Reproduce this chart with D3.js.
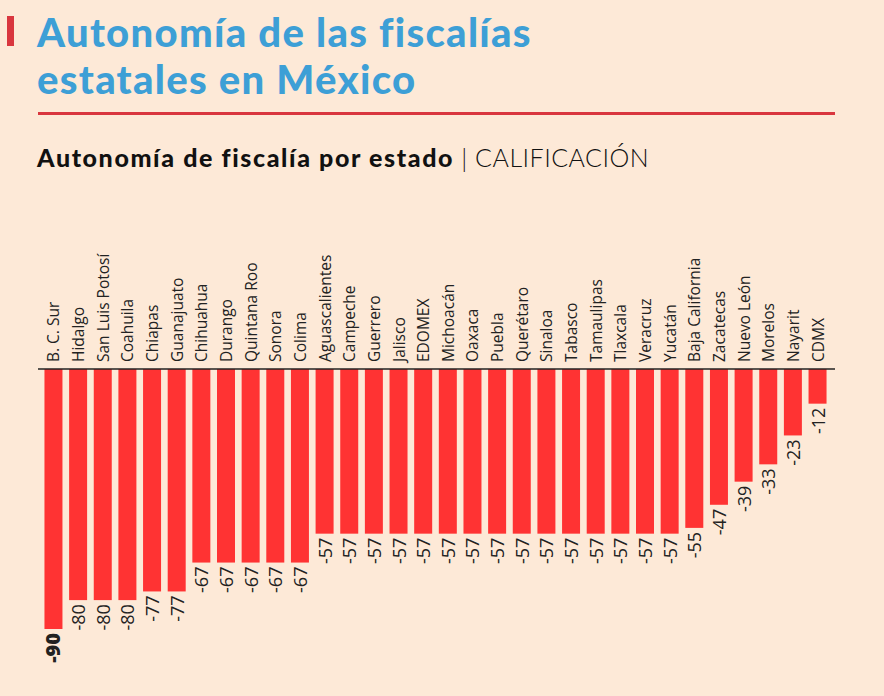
<!DOCTYPE html>
<html><head><meta charset="utf-8">
<script src="https://cdn.jsdelivr.net/npm/d3@7"></script>
<style>body{margin:0;background:#fde9d7;}svg{display:block;}</style>
</head><body><svg id="c" width="884" height="696"></svg>
<script>
const states=["B. C. Sur","Hidalgo","San Luis Potosí","Coahuila","Chiapas","Guanajuato","Chihuahua","Durango","Quintana Roo","Sonora","Colima","Aguascalientes","Campeche","Guerrero","Jalisco","EDOMEX","Michoacán","Oaxaca","Puebla","Querétaro","Sinaloa","Tabasco","Tamaulipas","Tlaxcala","Veracruz","Yucatán","Baja California","Zacatecas","Nuevo León","Morelos","Nayarit","CDMX"];
const values=[-90,-80,-80,-80,-77,-77,-67,-67,-67,-67,-67,-57,-57,-57,-57,-57,-57,-57,-57,-57,-57,-57,-57,-57,-57,-57,-55,-47,-39,-33,-23,-12];

const svg=d3.select("#c");
svg.append("rect").attr("width",884).attr("height",696).attr("fill","#fde9d7");
svg.append("rect").attr("x",7).attr("y",16).attr("width",7).attr("height",30).attr("fill","#d9363e");
const tf="Lato, 'Noto Sans', sans-serif";
svg.append("text").attr("x",37).attr("y",47).attr("font-family",tf).attr("font-weight",900).attr("font-size",40).attr("letter-spacing",1.3).attr("fill","#3d9fd6").text("Autonomía de las fiscalías");
svg.append("text").attr("x",37).attr("y",94).attr("font-family",tf).attr("font-weight",900).attr("font-size",40).attr("letter-spacing",1.3).attr("fill","#3d9fd6").text("estatales en México");
svg.append("rect").attr("x",38).attr("y",112).attr("width",797).attr("height",3).attr("fill","#d9363e");
const st=svg.append("text").attr("x",37).attr("y",167).attr("font-family",tf).attr("font-size",25).attr("fill","#111");
st.append("tspan").attr("font-weight",900).attr("letter-spacing",1.6).text("Autonomía de fiscalía por estado");
st.append("tspan").attr("font-weight",300).attr("letter-spacing",0.5).text("  |  CALIFICACIÓN");

const x=d3.scaleBand().domain(states).range([42,829]).paddingInner(0.27).paddingOuter(0.1);
const y=d3.scaleLinear().domain([0,-90]).range([369,629]);
const lf="'Open Sans', 'Noto Sans', sans-serif";
svg.selectAll("rect.bar").data(values).join("rect").attr("class","bar")
 .attr("x",(d,i)=>x(states[i])).attr("width",x.bandwidth())
 .attr("y",y(0)).attr("height",d=>y(d)-y(0)).attr("fill","#ff3333");
svg.append("line").attr("x1",38).attr("x2",835).attr("y1",369).attr("y2",369).attr("stroke","#222").attr("stroke-width",1.5);
svg.selectAll("text.cat").data(states).join("text").attr("class","cat")
 .attr("transform",d=>`translate(${x(d)+x.bandwidth()/2+6},362) rotate(-90)`)
 .attr("font-family",lf).attr("font-size",15.5).attr("fill","#222").text(d=>d);
svg.selectAll("text.val").data(values).join("text").attr("class","val")
 .attr("transform",(d,i)=>`translate(${x(states[i])+x.bandwidth()/2+7},${y(d)+4}) rotate(-90)`)
 .attr("text-anchor","end").attr("font-family",lf).attr("font-size",(d,i)=>i==0?20:18)
 .attr("font-weight",(d,i)=>i==0?800:400).attr("fill","#222").text(d=>d);
</script></body></html>
